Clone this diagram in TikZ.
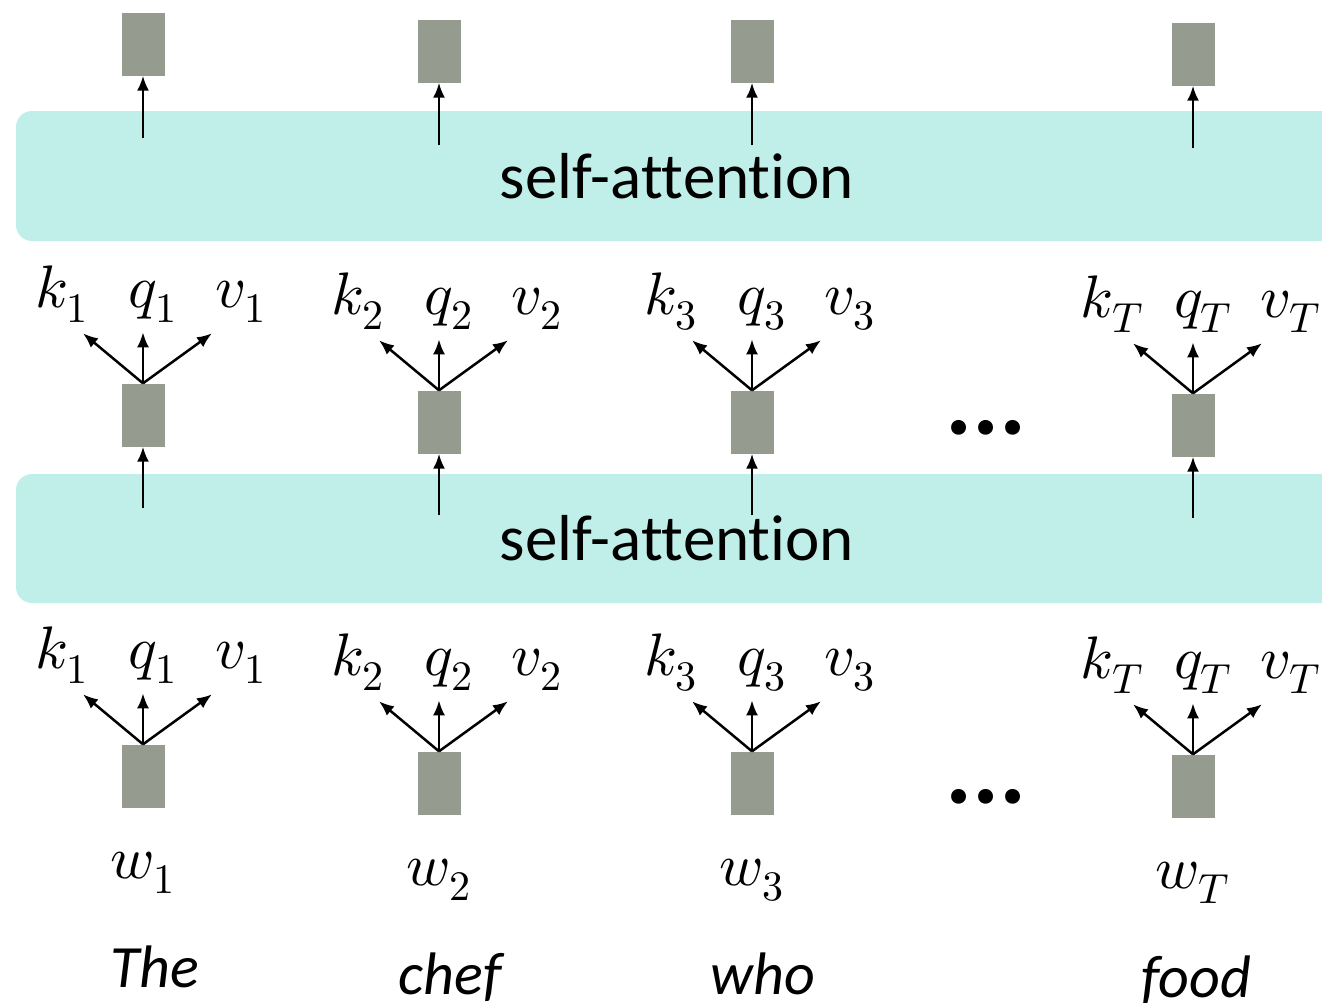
\documentclass[tikz,border=0pt]{standalone}
\usepackage{fontspec}
\usepackage{unicode-math}
\setmainfont{Carlito}[Ligatures=CommonOff]
\setmathfont{Latin Modern Math}
\usepackage{tikz}
\usetikzlibrary{positioning, arrows.meta}
\definecolor{bandcol}{RGB}{192,238,232}
\definecolor{cellcol}{RGB}{149,155,142}
\tikzset{
vec/.style={
  fill=cellcol,
  rectangle,
  inner sep=0pt,
  minimum height=63pt,
  minimum width=43pt
  },
layer/.style={fill=bandcol, rounded corners=16pt},
layertext/.style={font=\fontsize{65}{70}\selectfont, inner sep=0pt, anchor=base},
lab/.style={font=\fontsize{60}{64}\selectfont, inner sep=0pt, anchor=base},
word/.style={font=\fontsize{60}{66}\selectfont\itshape, inner sep=0pt, anchor=base},
gap/.style={font=\fontsize{100}{100}\selectfont\bfseries\itshape, inner sep=0pt},
line/.style={->,>={Latex[length=15pt,width=12pt]}, line width=2.5pt}
}

\begin{document}
\begin{tikzpicture}[x=1pt, y=-1pt]
\useasboundingbox (0,0) rectangle (1322,1002);
\clip (0,0) rectangle (1322,1002);
% the two attention layers
\path[layer] (16,111) rectangle (1360,241);
\node[layertext] (att2) at (677,198) {self-attention};
\path[layer] (16,474) rectangle (1360,603);
\node[layertext] (att1) at (677,560) {self-attention};
\node[gap] (gap2) at (988,428) {...};
\node[gap] (gap1) at (988,797) {...};
\foreach \i/\x/\d/\w/\o in {1/143/0/The/12, 2/439/7/chef/11, 3/752/7/who/11, T/1193/10/food/3} {
  % outputs
  \node[vec] (out\i) at (\x,44+\d) {};
  \coordinate (up\i) at (\x,138+\d);
  \draw[line] (up\i) -- (out\i);
  % middle vectors
  \node[vec] (mid\i) at (\x,415+\d) {};
  \coordinate (in\i) at (\x,508+\d);
  \draw[line] (in\i) -- (mid\i);
  \coordinate (mk\i) at ([shift={(-60,-50)}]mid\i.north);
  \coordinate (mq\i) at ([shift={(0,-51)}]mid\i.north);
  \coordinate (mv\i) at ([shift={(69,-50)}]mid\i.north);
  \draw[line] (mid\i.north) -- (mk\i);
  \draw[line] (mid\i.north) -- (mq\i);
  \draw[line] (mid\i.north) -- (mv\i);
  \node[lab] (k\i) at ([shift={(-81,-76)}]mid\i.north) {$k_{\i}$};
  \node[lab] (q\i) at ([shift={(10,-76)}]mid\i.north) {$q_{\i}$};
  \node[lab] (v\i) at ([shift={(98,-76)}]mid\i.north) {$v_{\i}$};
  % word embeddings
  \node[vec] (emb\i) at (\x,776+\d) {};
  \coordinate (ek\i) at ([shift={(-60,-50)}]emb\i.north);
  \coordinate (eq\i) at ([shift={(0,-51)}]emb\i.north);
  \coordinate (ev\i) at ([shift={(69,-50)}]emb\i.north);
  \draw[line] (emb\i.north) -- (ek\i);
  \draw[line] (emb\i.north) -- (eq\i);
  \draw[line] (emb\i.north) -- (ev\i);
  \node[lab] (ke\i) at ([shift={(-81,-76)}]emb\i.north) {$k_{\i}$};
  \node[lab] (qe\i) at ([shift={(10,-76)}]emb\i.north) {$q_{\i}$};
  \node[lab] (ve\i) at ([shift={(98,-76)}]emb\i.north) {$v_{\i}$};
  \node[lab] (w\i) at ([shift={(0,71)}]emb\i.south) {$w_{\i}$};
  \node[word] (word\i) at ([shift={(\o,180)}]emb\i.south) {\w};
}
\end{tikzpicture}
\end{document}
